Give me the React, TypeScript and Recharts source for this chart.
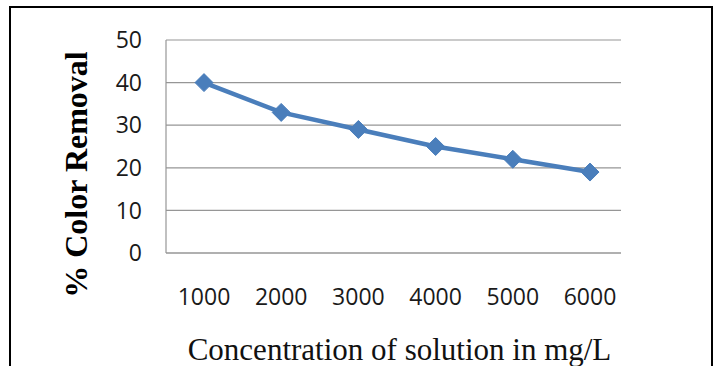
import React from 'react';
import { LineChart, Line, XAxis, YAxis, CartesianGrid } from 'recharts';

const concentrations = ['1000', '2000', '3000', '4000', '5000', '6000'];
const colorRemoval = [40, 33, 29, 25, 22, 19];
const yTicks = [0, 10, 20, 30, 40, 50];

const data = concentrations.map((c, i) => ({ conc: c, removal: colorRemoval[i] }));

const LINE_COLOR = '#4A7EBB';
const GRID_COLOR = '#969696';
const TICK_FONT = '"Open Sans", "DejaVu Sans", sans-serif';
const SERIF = '"Liberation Serif", "Times New Roman", serif';

const Diamond = (props: any) => {
  const { cx, cy, index } = props;
  if (cx == null || cy == null) return <g key={index} />;
  const r = 9;
  return (
    <path
      key={index}
      d={`M${cx},${cy - r}L${cx + r},${cy}L${cx},${cy + r}L${cx - r},${cy}Z`}
      fill={LINE_COLOR}
      stroke={LINE_COLOR}
      strokeWidth={1}
    />
  );
};

export default function App() {
  return (
    <div
      style={{
        position: 'absolute',
        left: 0,
        top: 0,
        width: 717,
        height: 366,
        overflow: 'hidden',
        background: '#fff',
      }}
    >
      <div
        style={{
          position: 'absolute',
          left: 9,
          top: 6,
          width: 700,
          height: 400,
          border: '2px solid #000',
          boxSizing: 'content-box',
        }}
      />
      <div style={{ position: 'absolute', left: 0, top: 0 }}>
        <LineChart
          width={717}
          height={366}
          data={data}
          margin={{ top: 40, right: 96, bottom: 6, left: 0 }}
        >
          <CartesianGrid vertical={false} stroke={GRID_COLOR} strokeWidth={1.2} />
          <XAxis
            dataKey="conc"
            type="category"
            scale="point"
            padding={{ left: 38, right: 31 }}
            height={107}
            tickSize={0}
            tickMargin={36}
            axisLine={{ stroke: GRID_COLOR, strokeWidth: 1.2 }}
            tick={{ fill: '#1a1a1a', fontSize: 23, fontFamily: TICK_FONT }}
            label={{
              value: 'Concentration of solution in mg/L',
              position: 'insideBottom',
              offset: 0,
              dx: 6,
              fill: '#111',
              fontSize: 31,
              fontFamily: SERIF,
            }}
          />
          <YAxis
            domain={[0, 50]}
            ticks={yTicks}
            width={166}
            tickSize={0}
            tickMargin={24}
            axisLine={{ stroke: GRID_COLOR, strokeWidth: 1.2 }}
            tick={{ fill: '#1a1a1a', fontSize: 23, fontFamily: TICK_FONT }}
            label={{
              value: '% Color Removal',
              angle: -90,
              position: 'center',
              dx: -7,
              dy: 28,
              fill: '#000',
              fontSize: 32,
              fontWeight: 'bold',
              fontFamily: SERIF,
            }}
          />
          <Line
            type="linear"
            dataKey="removal"
            stroke={LINE_COLOR}
            strokeWidth={4.5}
            dot={Diamond}
            activeDot={false}
            isAnimationActive={false}
          />
        </LineChart>
      </div>
    </div>
  );
}
